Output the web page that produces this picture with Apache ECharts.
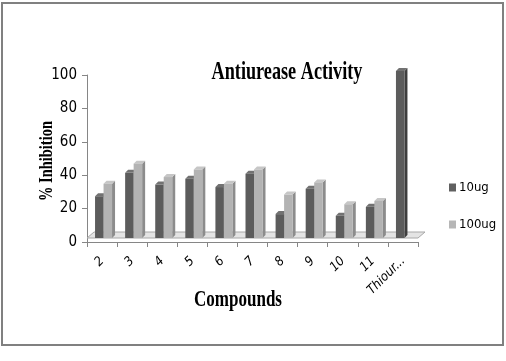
<!DOCTYPE html>
<html><head><meta charset="utf-8">
<script src="https://cdn.jsdelivr.net/npm/echarts@6/dist/echarts.min.js"></script>
<style>html,body{margin:0;padding:0;background:#fff}#c{width:506px;height:361px}</style>
</head><body><div id="c"></div>
<script>
var categories = ['2','3','4','5','6','7','8','9','10','11','Thiour...'];
var values10ug = [25, 39, 32, 35.5, 30.5, 38.5, 14.3, 29.5, 13.3, 18.7, 100];
var values100ug = [32.5, 44.5, 36.5, 41, 32.5, 41, 26, 33.3, 20.2, 22.2, null];
var yTicks = [0, 20, 40, 60, 80, 100];

var NARROW = '"Liberation Sans Narrow", "DejaVu Sans Condensed", "Roboto Condensed", sans-serif';
var chart = echarts.init(document.getElementById('c'));
var D = 3, SHIFT = -4, W = 8.5;

function bar3d(offset, cFront, cSide, cTop) {
  return function (params, api) {
    var v = api.value(1);
    if (v == null || isNaN(v)) return;
    var base = api.coord([api.value(0), 0]);
    var top = api.coord([api.value(0), v]);
    var x0 = base[0] + offset, yB = base[1] + SHIFT, yT = top[1] + SHIFT;
    return {
      type: 'group',
      children: [
        {type: 'polygon', shape: {points: [[x0 + W, yT], [x0 + W + D, yT - D], [x0 + W + D, yB - D], [x0 + W, yB]]}, style: {fill: cSide}},
        {type: 'polygon', shape: {points: [[x0, yT], [x0 + D, yT - D], [x0 + W + D, yT - D], [x0 + W, yT]]}, style: {fill: cTop}},
        {type: 'rect', shape: {x: x0, y: yT, width: W, height: yB - yT}, style: {fill: cFront}}
      ]
    };
  };
}

function mk(arr) { return arr.map(function (v, i) { return [i, v]; }); }

chart.setOption({
  animation: false,
  grid: {left: 87, right: 88, top: 75, bottom: 119},
  xAxis: {
    type: 'category', data: categories,
    axisLine: {lineStyle: {color: '#868686', width: 1}},
    axisTick: {show: true, length: 5, lineStyle: {color: '#868686'}},
    axisLabel: {rotate: 45, margin: 17, color: '#000', fontFamily: NARROW, fontStyle: 'italic', fontSize: 13, interval: 0}
  },
  yAxis: {
    type: 'value', min: 0, max: 100, interval: 20,
    splitLine: {show: false},
    axisLine: {show: true, lineStyle: {color: '#868686'}},
    axisTick: {show: true, length: 5, lineStyle: {color: '#868686'}},
    axisLabel: {color: '#000', fontFamily: NARROW, fontSize: 15, margin: 10,
      formatter: function (v) { return yTicks.indexOf(v) >= 0 ? String(v) : ''; }}
  },
  legend: {
    orient: 'vertical', left: 444, top: 176, itemWidth: 7, itemHeight: 8, itemGap: 24, icon: 'rect',
    textStyle: {fontFamily: NARROW, fontSize: 13, color: '#000', padding: [0, 0, 0, -2]},
    data: ['10ug', '100ug']
  },
  series: [
    {type: 'custom', name: 'floor', data: [[0, 0]], z: 1, silent: true,
      renderItem: function (params, api) {
        var a = api.coord([0, 0]), b = api.coord([categories.length - 1, 0]);
        var bw = api.size([1, 0])[0];
        var l = a[0] - bw / 2, r = b[0] + bw / 2, y = a[1] + SHIFT;
        return {type: 'polygon', shape: {points: [[l, y], [r, y], [r + 7, y - 6], [l + 7, y - 6]]},
          style: {fill: '#e4e4e4', stroke: '#a8a8a8', lineWidth: 1}};
      }},
    {type: 'custom', name: '10ug', data: mk(values10ug), z: 3, itemStyle: {color: '#606060'},
      renderItem: bar3d(-7, '#5c5c5c', '#3e3e3e', '#727272')},
    {type: 'custom', name: '100ug', data: mk(values100ug), z: 3, itemStyle: {color: '#b6b6b6'},
      renderItem: bar3d(1.5, '#b3b3b3', '#8c8c8c', '#c6c6c6')}
  ],
  graphic: [
    {type: 'rect', shape: {x: 2, y: 3, width: 501, height: 342}, style: {fill: null, stroke: '#808080', lineWidth: 2}, z: 0},
    {type: 'text', x: 287, y: 72, scaleX: 0.7, style: {text: 'Antiurease Activity', font: 'bold 26px "Liberation Serif"', fill: '#000', textAlign: 'center', textVerticalAlign: 'middle'}},
    {type: 'text', x: 238, y: 300, scaleX: 0.74, style: {text: 'Compounds', font: 'bold 23px "Liberation Serif"', fill: '#000', textAlign: 'center', textVerticalAlign: 'middle'}},
    {type: 'text', x: 47, y: 161, rotation: Math.PI / 2, scaleX: 0.76, style: {text: '% Inhibition', font: 'bold 19px "Liberation Serif"', fill: '#000', textAlign: 'center', textVerticalAlign: 'middle'}}
  ]
});
</script></body></html>
